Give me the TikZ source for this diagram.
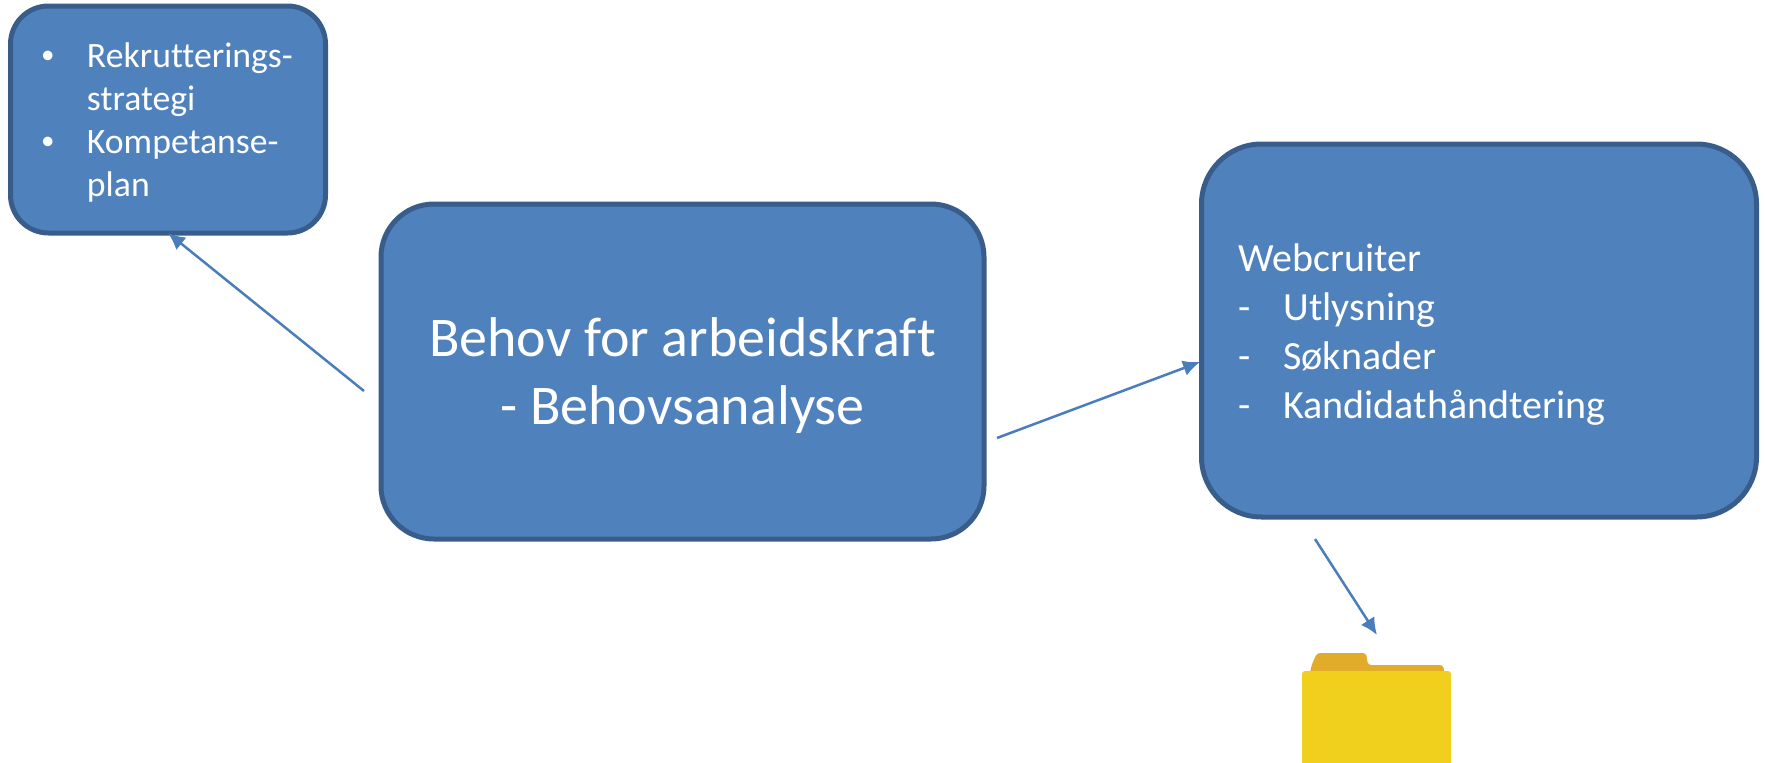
\documentclass[tikz,border=0pt]{standalone}
\usepackage{fontspec}
\setmainfont[Ligatures=NoCommon]{Carlito}
\usetikzlibrary{arrows.meta}

\definecolor{boxfill}{HTML}{4F81BD}
\definecolor{boxline}{HTML}{385D8A}
\definecolor{flowline}{HTML}{4A7EBB}
\definecolor{folderfront}{HTML}{F0D01C}
\definecolor{foldertab}{HTML}{E2AC2B}

\newcommand{\smallbullet}{\raisebox{4pt}{\fontsize{27}{27}\selectfont\textbullet}}

\begin{document}
\begin{tikzpicture}[x=1pt, y=-1pt,
  topic/.style={rectangle, draw=boxline, fill=boxfill, line width=5pt,
    text=white, outer sep=0pt, align=left},
  %
  flow/.style={-{Latex[length=17pt, width=16pt]}, draw=flowline, line width=2.5pt},
  %
  folderbody/.style={rectangle, rounded corners=3pt, fill=folderfront, outer sep=0pt,
    minimum width=149pt, minimum height=100pt, inner sep=0pt}
  ]

  \useasboundingbox (0,0) rectangle (1765,763);

  \begin{scope}
    \node [topic, rounded corners=38pt, minimum width=315pt, minimum height=227pt,
      text width=254pt, inner xsep=30pt, font=\fontsize{35.7}{43}\selectfont]
      (strategi) at (168,119.5) {%
      \begin{tabular}{@{}p{46pt}@{}l@{}}
        \smallbullet & Rekrutterings-\\
                     & strategi\\
        \smallbullet & Kompetanse-\\
                     & plan\\[-7pt]
      \end{tabular}};
    \node [topic, rounded corners=53pt, minimum width=603pt, minimum height=335pt,
      font=\fontsize{56}{68}\selectfont]
      (behov) at (682.5,371.5) {%
      \begin{tabular}{@{}c@{}}
        Behov for arbeidskraft\\
        - Behovsanalyse\\[-11pt]
      \end{tabular}};
    \node [topic, rounded corners=60pt, minimum width=555pt, minimum height=373pt,
      text width=481pt, inner xsep=37pt, font=\fontsize{40}{49}\selectfont]
      (webcruiter) at (1479,330.5) {%
      \begin{tabular}{@{}p{45pt}@{}l@{}}
        \multicolumn{2}{@{}l}{Webcruiter}\\
        - & Utlysning\\
        - & Søknader\\
        - & Kandidathåndtering\\[-9pt]
      \end{tabular}};
  \end{scope}

  %%%%%%%%%%%%%%%%%%%%%%%%%%%%%%%
  \begin{scope}
    \fill [foldertab, rounded corners=3pt] (1308,680) -- (1312,664) -- (1317,653) -- (1366,653)
      -- (1368,665) -- (1443,665) -- (1446,680) -- cycle;
    \node [folderbody, anchor=north west] (folder) at (1302,671) {};
  \end{scope}

  %%%%%%%%%%%%%%%%%%%%%%%%%%%%%%%
  \coordinate (strategiFrom) at (364,391);
  \coordinate (strategiTo) at (168,233);
  \coordinate (webFrom) at (997,438);
  \coordinate (webTo) at (1200,362);
  \coordinate (folderFrom) at (1315,539);
  \coordinate (folderTo) at (1377,635);

  \begin{scope}
    \draw [flow] (strategiFrom) -- (strategiTo);
    \draw [flow] (webFrom) -- (webTo);
    \draw [flow] (folderFrom) -- (folderTo);
  \end{scope}

\end{tikzpicture}
\end{document}
